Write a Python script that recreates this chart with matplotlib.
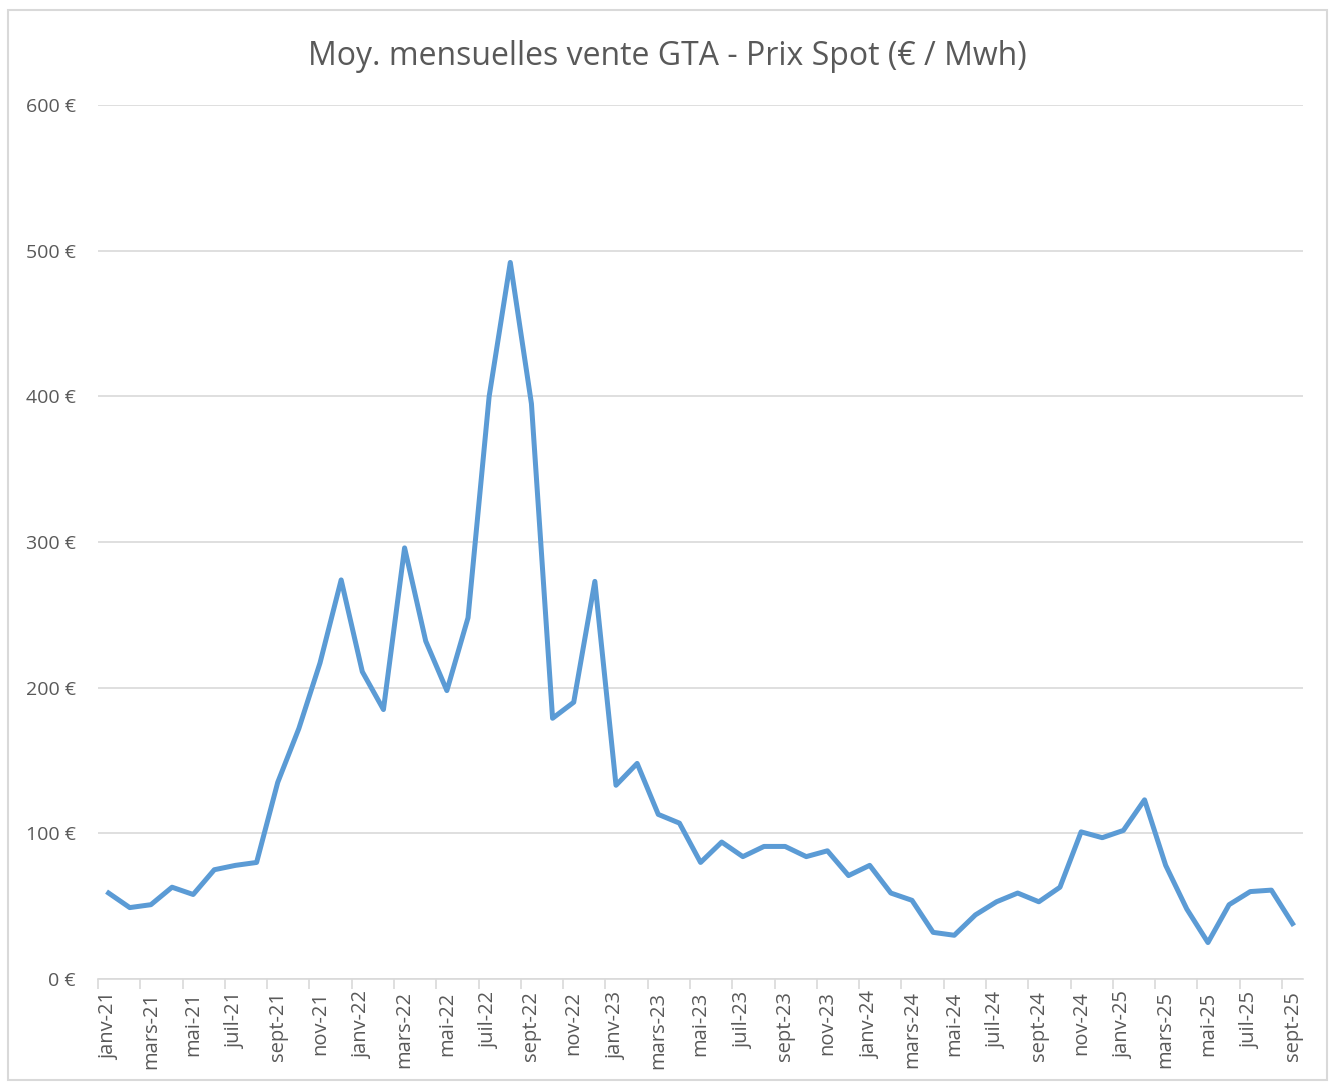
import numpy as np
import matplotlib
matplotlib.use("Agg")
import matplotlib.pyplot as plt
from matplotlib.patches import Rectangle

plt.rcParams['font.family'] = ['Open Sans', 'DejaVu Sans']

# Monthly spot prices, janv-21 .. sept-25
moisNoms = ['janv', 'févr', 'mars', 'avr', 'mai', 'juin',
            'juil', 'août', 'sept', 'oct', 'nov', 'déc']
annees = ['21', '22', '23', '24', '25']
mois = [m + '-' + a for a in annees for m in moisNoms][:57]

prix = [59, 49, 51, 63, 58, 75, 78, 80, 135, 172, 217, 274,
        211, 185, 296, 232, 198, 248, 400, 492, 395, 179, 190, 273,
        133, 148, 113, 107, 80, 94, 84, 91, 91, 84, 88, 71,
        78, 59, 54, 32, 30, 44, 53, 59, 53, 63, 101, 97,
        102, 123, 78, 48, 25, 51, 60, 61, 38]

yTicks = [0, 100, 200, 300, 400, 500, 600]

GRIS_TXT = '#595959'
GRIS_LIGNE = '#D9D9D9'
BLEU = '#5B9BD5'

fig = plt.figure(figsize=(13.32, 10.84), dpi=100)
fig.patches.append(Rectangle((0.006, 0.004), 0.99, 0.987, transform=fig.transFigure,
                             fill=False, edgecolor=GRIS_LIGNE, linewidth=1.5))
ax = fig.add_axes([0.0736, 0.0969, 0.9047, 0.8061])

x = np.arange(len(prix))
ax.plot(x, prix, color=BLEU, linewidth=3.6, solid_joinstyle='round', zorder=3)

ax.set_ylim(0, 600)
ax.set_xlim(-0.5, len(prix) - 0.5)
ax.set_yticks(yTicks)
ax.set_yticklabels([f'{v} €' for v in yTicks], color=GRIS_TXT, fontsize=14)
ax.grid(axis='y', color=GRIS_LIGNE, linewidth=1.2)
ax.set_axisbelow(True)

# labels every 2 months, centred on the month; tick marks on the category edges
lblPos = x[::2]
ax.set_xticks(lblPos)
ax.set_xticklabels([mois[i] for i in lblPos], rotation=90, color=GRIS_TXT, fontsize=14.5)
ax.set_xticks(lblPos - 0.5, minor=True)
ax.tick_params(axis='x', which='major', length=0, pad=9)
ax.tick_params(axis='x', which='minor', length=7, color=GRIS_LIGNE, width=1.2)
ax.tick_params(axis='y', length=0, pad=16)

for s in ['left', 'right', 'top']:
    ax.spines[s].set_visible(False)
ax.spines['bottom'].set_color(GRIS_LIGNE)
ax.spines['bottom'].set_linewidth(1.2)

fig.text(0.501, 0.948, 'Moy. mensuelles vente GTA - Prix Spot (€ / Mwh)',
         ha='center', va='center', fontsize=23, color=GRIS_TXT)

fig.savefig('out.png', dpi=100)
